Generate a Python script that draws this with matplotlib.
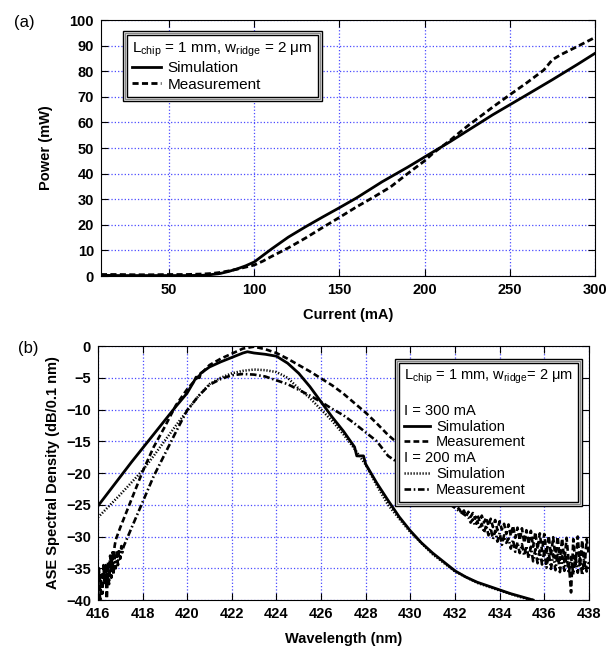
import numpy as np
import matplotlib
matplotlib.use('Agg')
import matplotlib.pyplot as plt
from matplotlib.lines import Line2D
from matplotlib.patches import Rectangle

plt.rcParams['font.family'] = ['Liberation Sans', 'DejaVu Sans']
plt.rcParams['mathtext.fontset'] = 'custom'
plt.rcParams['mathtext.rm'] = 'Liberation Sans'
plt.rcParams['mathtext.it'] = 'Liberation Sans'

# (a) L-I curve
current_sim = [10, 20, 40, 60, 70, 75, 80, 85, 90, 95, 100, 110, 120, 130, 140, 150, 160,
               175, 190, 200, 215, 230, 240, 250, 260, 275, 290, 300]
power_sim = [0.3, 0.2, 0.2, 0.2, 0.3, 0.6, 1.0, 1.8, 2.8, 4.0, 5.5, 10.5, 15.2, 19.2, 23.0,
             26.7, 30.5, 36.8, 42.5, 46.5, 52.5, 58.8, 63.0, 66.9, 70.8, 76.7, 82.8, 87.0]
current_meas = [10, 20, 30, 40, 50, 60, 70, 75, 80, 85, 90, 95, 100, 105, 110, 115, 120, 130,
                140, 150, 160, 170, 180, 190, 200, 205, 210, 215, 220, 225, 230, 240, 250,
                260, 270, 275, 280, 290, 300]
power_meas = [0.6, 0.6, 0.5, 0.5, 0.6, 0.6, 0.8, 1.0, 1.4, 2.0, 2.7, 3.5, 4.3, 5.8, 7.6, 9.3,
              11.0, 14.8, 18.9, 22.9, 27.0, 30.8, 34.8, 40.0, 45.0, 48.0, 50.5, 53.0, 55.8,
              58.5, 61.0, 66.0, 70.8, 75.5, 80.5, 84.5, 86.5, 89.8, 93.2]

# (b) ASE spectra
wl_sim300 = [416.0, 416.5, 417.0, 417.5, 418.0, 418.5, 419.0, 419.5, 420.0, 420.3, 420.4,
             420.55, 420.6, 421.0, 421.5, 422.0, 422.5, 422.7, 423.0, 423.5, 424.0, 424.5,
             425.0, 425.5, 426.0, 426.5, 427.0, 427.5, 427.6, 427.9, 428.0, 428.5, 429.0,
             429.5, 430.0, 430.5, 431.0, 431.5, 432.0, 432.5, 433.0, 433.5, 434.0, 434.5,
             435.0, 435.5]
db_sim300 = [-25.2, -22.9, -20.6, -18.3, -16.1, -13.9, -11.7, -9.5, -7.4, -5.6, -4.9, -5.0,
             -4.3, -3.3, -2.5, -1.8, -1.1, -0.9, -1.1, -1.3, -1.6, -2.7, -4.3, -6.4, -8.8,
             -11.2, -13.4, -15.9, -17.3, -17.3, -18.6, -21.6, -24.3, -26.9, -29.1, -31.0,
             -32.6, -34.0, -35.4, -36.4, -37.2, -37.8, -38.4, -39.0, -39.5, -40.0]

wl_sim200 = [416.0, 416.5, 417.0, 417.5, 418.0, 418.5, 419.0, 419.5, 420.0, 420.5, 421.0,
             421.5, 422.0, 422.5, 423.0, 423.5, 424.0, 424.5, 425.0, 425.5, 426.0, 426.5,
             427.0, 427.5, 428.0, 428.5, 429.0, 429.5, 430.0, 431.0, 432.0, 433.0, 434.0,
             435.0, 435.5]
db_sim200 = [-27.0, -25.2, -23.4, -21.5, -19.6, -17.3, -14.9, -12.5, -10.2, -7.9, -6.0, -5.0,
             -4.3, -3.9, -3.7, -3.8, -4.1, -5.0, -6.7, -8.2, -10.0, -11.8, -13.9, -16.2,
             -18.7, -22.0, -25.0, -27.2, -29.3, -32.8, -35.5, -37.3, -38.5, -39.6, -40.0]

wl_meas300 = [416.00, 416.05, 416.10, 416.15, 416.20, 416.25, 416.30, 416.35, 416.40, 416.45,
              416.50, 416.55, 416.60, 416.65, 416.70, 416.75, 416.80,
              417.0, 417.5, 418.0, 418.5, 419.0, 419.5, 420.0, 420.5, 421.0, 421.5, 422.0,
              422.5, 423.0, 423.5, 424.0, 424.5, 425.0, 425.5, 426.0, 426.5, 427.0, 427.5,
              428.0, 428.5, 429.0, 429.5, 430.0, 430.5, 431.0, 431.5, 432.0,
              432.2, 432.3, 432.4, 432.5, 432.6, 432.7, 432.8, 432.9, 433.0, 433.1, 433.2,
              433.3, 433.4, 433.5, 433.6, 433.7, 433.8, 433.9, 434.0, 434.1, 434.2, 434.3,
              434.4, 434.5, 434.6, 434.7, 434.8, 434.9, 435.0, 435.1, 435.2, 435.3, 435.4,
              435.5, 435.6, 435.7, 435.8, 435.9, 436.0, 436.1, 436.2, 436.3, 436.4, 436.5,
              436.6, 436.7, 436.8, 436.9, 437.0, 437.1, 437.2, 437.3, 437.4, 437.5, 437.6,
              437.7, 437.8, 437.9, 438.0]
db_meas300 = [-38.0, -35.0, -40.5, -36.0, -39.0, -34.5, -37.5, -35.0, -40.5, -34.0,
              -36.5, -33.0, -35.5, -32.5, -33.5, -31.5, -30.5,
              -28.6, -24.2, -19.8, -15.9, -12.7, -9.3, -6.8, -4.8, -3.0, -2.0, -1.2,
              -0.4, -0.1, -0.5, -1.1, -2.0, -3.0, -4.0, -5.1, -6.2, -7.5, -9.0,
              -10.5, -12.2, -14.0, -15.5, -17.0, -19.0, -21.0, -23.0, -25.0,
              -25.7, -26.4, -25.9, -26.8, -26.1, -26.9, -26.3, -27.2, -26.5, -27.6, -26.7,
              -27.8, -27.0, -28.3, -27.2, -28.5, -27.4, -29.0, -27.6, -28.9, -28.0, -29.6,
              -28.1, -29.9, -28.3, -30.2, -28.6, -30.6, -28.7, -31.0, -29.0, -31.2, -29.1,
              -31.6, -29.3, -32.0, -29.5, -32.3, -29.6, -32.8, -29.9, -33.0, -30.1, -33.4,
              -30.0, -33.7, -30.3, -34.0, -30.2, -34.2, -38.8, -30.4, -34.5, -30.0, -34.8,
              -30.6, -35.0, -30.4, -33.0]

wl_meas200 = [416.30, 416.35, 416.40, 416.45, 416.50, 416.55, 416.60, 416.65, 416.70, 416.75,
              416.80, 416.85, 416.90, 416.95, 417.00, 417.05, 417.10, 417.15,
              417.5, 418.0, 418.5, 419.0, 419.5, 420.0, 420.5, 421.0, 421.5, 422.0, 422.5,
              423.0, 423.5, 424.0, 424.5, 425.0, 425.5, 426.0, 426.5, 427.0, 427.5, 428.0,
              428.5, 429.0, 429.5, 430.0, 431.0, 432.0,
              432.6, 432.7, 432.8, 432.9, 433.0, 433.1, 433.2, 433.3, 433.4, 433.5, 433.6,
              433.7, 433.8, 433.9, 434.0, 434.1, 434.2, 434.3, 434.4, 434.5, 434.6, 434.7,
              434.8, 434.9, 435.0, 435.1, 435.2, 435.3, 435.4, 435.5, 435.6, 435.7, 435.8,
              435.9, 436.0, 436.1, 436.2, 436.3, 436.4, 436.5, 436.6, 436.7, 436.8, 436.9,
              437.0, 437.1, 437.2, 437.3, 437.4, 437.5, 437.6, 437.7, 437.8, 437.9, 438.0]
db_meas200 = [-37.0, -34.5, -38.0, -35.0, -37.5, -34.0, -36.5, -33.5, -36.0, -33.0,
              -35.0, -32.5, -34.5, -32.0, -33.5, -31.5, -32.5, -31.6,
              -28.7, -24.6, -20.5, -17.0, -13.5, -10.1, -7.9, -6.1, -5.2, -4.6, -4.4,
              -4.5, -4.8, -5.4, -6.0, -6.9, -7.8, -8.8, -9.9, -10.9, -12.2, -13.6,
              -15.0, -17.3, -18.5, -20.0, -23.0, -25.5,
              -27.0, -27.8, -27.3, -28.3, -27.6, -28.8, -28.0, -29.4, -28.2, -29.8, -28.7,
              -30.4, -29.1, -30.8, -29.4, -31.3, -29.8, -31.0, -30.3, -31.9, -30.5, -32.4,
              -30.9, -32.6, -31.2, -33.0, -31.5, -33.4, -31.6, -33.9, -32.0, -34.2, -32.2,
              -34.4, -32.3, -34.9, -32.5, -35.1, -32.8, -35.3, -32.6, -35.6, -33.1, -35.4,
              -32.9, -35.8, -33.2, -36.0, -33.0, -35.7, -33.4, -36.1, -32.8, -35.5, -34.0]

GRID = dict(color='#4a4aff', linestyle=':', linewidth=0.9)
DASH = (2.2, 1.2)
DOT = (0.5, 0.7)
DASHDOT = (2.5, 1.0, 0.6, 1.0)


def matlab_axes(ax):
    ax.tick_params(direction='in', top=True, right=True, length=5, width=0.8,
                   labelsize=10.5, pad=5)
    for lab in ax.get_xticklabels() + ax.get_yticklabels():
        lab.set_fontweight('bold')
    ax.grid(True, **GRID)
    for s in ax.spines.values():
        s.set_linewidth(0.8)


def framed(ax, leg):
    # double frame around the legend, MATLAB style
    fig.canvas.draw()
    bb = leg.get_window_extent().transformed(ax.transAxes.inverted())
    px = ax.transAxes.inverted().transform((4, 4)) - ax.transAxes.inverted().transform((0, 0))
    for k, ec, fc in [(1.0, 'black', 'white'), (0.5, '#888888', 'none')]:
        ax.add_patch(Rectangle((bb.x0 - k * px[0], bb.y0 - k * px[1]),
                               bb.width + 2 * k * px[0], bb.height + 2 * k * px[1],
                               transform=ax.transAxes, facecolor=fc, edgecolor=ec,
                               linewidth=1.0, zorder=4.5, clip_on=False))


def shift_headers(leg, idx, fs):
    dx = (leg.handlelength + leg.handletextpad) * fs * fig.dpi / 72.0
    for i in idx:
        leg.get_texts()[i].set_position((-dx, 0))


fig = plt.figure(figsize=(6.08, 6.48), dpi=100)
ax1 = fig.add_axes([0.166, 0.574, 0.8125, 0.395])
ax2 = fig.add_axes([0.161, 0.074, 0.8076, 0.392])

# ---- (a)
ax1.plot(current_sim, power_sim, color='black', lw=2.0, label='Simulation')
ax1.plot(current_meas, power_meas, color='black', lw=2.0, dashes=DASH, label='Measurement')
ax1.set_xlim(10, 300)
ax1.set_ylim(0, 100)
ax1.set_xticks([50, 100, 150, 200, 250, 300])
ax1.set_yticks(range(0, 101, 10))
matlab_axes(ax1)
ax1.set_xlabel('Current (mA)', fontsize=10.5, fontweight='bold', labelpad=8)
ax1.set_ylabel('Power (mW)', fontsize=10.5, fontweight='bold', labelpad=12)
leg1 = ax1.legend(loc='upper left', bbox_to_anchor=(0.053, 0.94), borderaxespad=0,
                  title=r'L$_{\mathrm{chip}}$ = 1 mm, w$_{\mathrm{ridge}}$ = 2 $\mathrm{\mu}$m',
                  fontsize=11, title_fontsize=11, alignment='left', frameon=True,
                  fancybox=False, edgecolor='black', framealpha=1, handlelength=1.9,
                  handletextpad=0.4, labelspacing=0.15, borderpad=0.35)
leg1.get_frame().set_linewidth(1.0)
leg1.set_zorder(5)
framed(ax1, leg1)

# ---- (b)
ax2.plot(wl_sim300, db_sim300, color='black', lw=2.0, label='Simulation')
ax2.plot(wl_meas300, db_meas300, color='black', lw=1.9, dashes=DASH, label='Measurement')
ax2.plot(wl_sim200, db_sim200, color='black', lw=1.8, dashes=DOT, label='Simulation')
ax2.plot(wl_meas200, db_meas200, color='black', lw=1.9, dashes=DASHDOT, label='Measurement')
ax2.set_xlim(416, 438)
ax2.set_ylim(-40, 0)
ax2.set_xticks(range(416, 439, 2))
ax2.set_yticks(range(-40, 1, 5))
matlab_axes(ax2)
ax2.set_xlabel('Wavelength (nm)', fontsize=10.5, fontweight='bold', labelpad=8)
ax2.set_ylabel('ASE Spectral Density (dB/0.1 nm)', fontsize=10.5, fontweight='bold',
               labelpad=4)

h = ax2.get_lines()
blank = Line2D([], [], linestyle='none')
handles = [blank, h[0], h[1], blank, h[2], h[3]]
labels = ['I = 300 mA', 'Simulation', 'Measurement', 'I = 200 mA', 'Simulation', 'Measurement']
leg2 = ax2.legend(handles, labels, loc='upper left', bbox_to_anchor=(0.613, 0.935),
                  borderaxespad=0,
                  title=r'L$_{\mathrm{chip}}$ = 1 mm, w$_{\mathrm{ridge}}$= 2 $\mathrm{\mu}$m' + '\n',
                  fontsize=10.5, title_fontsize=10.5, alignment='left', frameon=True,
                  fancybox=False, edgecolor='black', framealpha=1, handlelength=1.8,
                  handletextpad=0.4, labelspacing=0.12, borderpad=0.35)
leg2.get_frame().set_linewidth(1.0)
leg2.set_zorder(5)
shift_headers(leg2, [0, 3], 10.5)
framed(ax2, leg2)

fig.text(14 / 608, 1 - 22 / 648, '(a)', fontsize=12, va='center', ha='left')
fig.text(18 / 608, 1 - 348 / 648, '(b)', fontsize=12, va='center', ha='left')

fig.savefig('out.png', dpi=100)
